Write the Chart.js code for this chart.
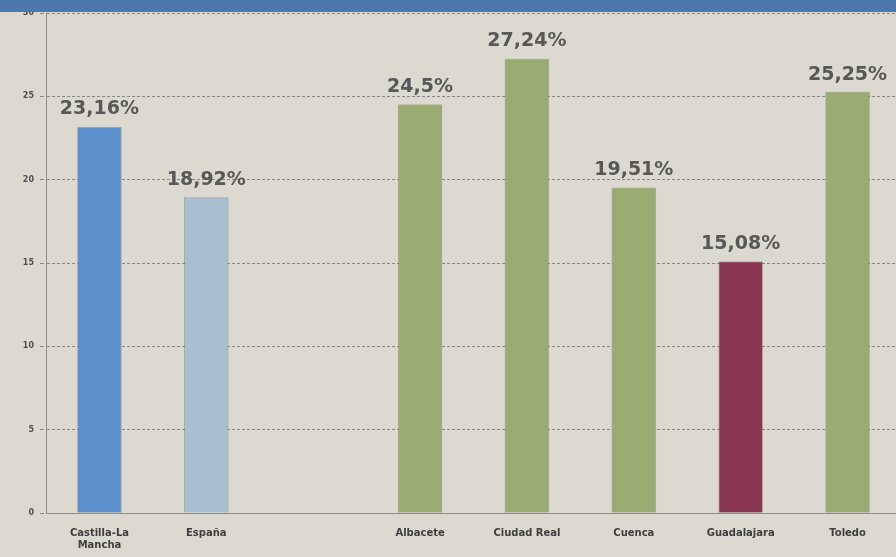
<!DOCTYPE html>
<html>
<head>
<meta charset="utf-8">
<script src="https://cdn.jsdelivr.net/npm/chart.js@4/dist/chart.umd.min.js"></script>
<style>
  body { margin: 0; background: #dcd9d0; }
  #wrap { position: relative; width: 896px; height: 557px; overflow: hidden; }
  #band { position: absolute; left: 0; top: 0; width: 896px; height: 12px; background: #4d78ad; }
</style>
</head>
<body>
<div id="wrap">
  <canvas id="chart" width="901" height="557"></canvas>
  <div id="band"></div>
</div>
<script>
// data
const regions = [['Castilla-La', 'Mancha'], 'España', '', 'Albacete', 'Ciudad Real', 'Cuenca', 'Guadalajara', 'Toledo'];
const rates = [23.16, 18.92, null, 24.5, 27.24, 19.51, 15.08, 25.25];
const rateLabels = ['23,16%', '18,92%', '', '24,5%', '27,24%', '19,51%', '15,08%', '25,25%'];
const barColors = ['#5d8fcc', '#a8bfd2', '#9aab72', '#9aab72', '#9aab72', '#9aab72', '#8b3652', '#9aab72'];
const yTicks = [0, 5, 10, 15, 20, 25, 30];

// writes the percentage over each bar
const valueLabels = {
	id: 'valueLabels',
	afterDatasetsDraw(chart) {
		const ctx = chart.ctx;
		const meta = chart.getDatasetMeta(0);
		ctx.save();
		ctx.font = 'bold 19px "DejaVu Sans"';
		ctx.fillStyle = '#585856';
		ctx.textAlign = 'center';
		ctx.textBaseline = 'bottom';
		meta.data.forEach((bar, i) => {
			if (rates[i] == null) return;
			ctx.fillText(rateLabels[i], bar.x, bar.y - 8);
		});
		ctx.restore();
	}
};

new Chart(document.getElementById('chart'), {
	type: 'bar',
	data: {
		labels: regions,
		datasets: [{
			data: rates,
			backgroundColor: barColors,
			borderColor: 'rgba(80,80,70,0.35)',
			borderWidth: 1,
			barThickness: 44
		}]
	},
	options: {
		responsive: false,
		animation: false,
		layout: { padding: { top: 13, right: 0, bottom: 0, left: 0 } },
		plugins: { legend: { display: false }, tooltip: { enabled: false } },
		scales: {
			x: {
				grid: { display: false },
				border: { color: '#8c8c86', dash: [3, 2] },
				ticks: { color: '#3e3e3e', font: { family: 'DejaVu Sans', size: 10, weight: 'bold' }, padding: 6, maxRotation: 0, autoSkip: false }
			},
			y: {
				min: 0,
				max: 30,
				afterBuildTicks: (axis) => { axis.ticks = yTicks.map(v => ({ value: v })); },
				afterFit: (axis) => { axis.width = 46; },
				grid: { color: '#8a8881', drawTicks: true, tickLength: 6, lineWidth: 1, tickBorderDash: [4, 2] },
				border: { color: '#8c8c86', dash: [3, 2] },
				ticks: { color: '#505050', font: { family: 'DejaVu Sans', size: 8, weight: 'bold' }, padding: 6 }
			}
		}
	},
	plugins: [valueLabels]
});
</script>
</body>
</html>
